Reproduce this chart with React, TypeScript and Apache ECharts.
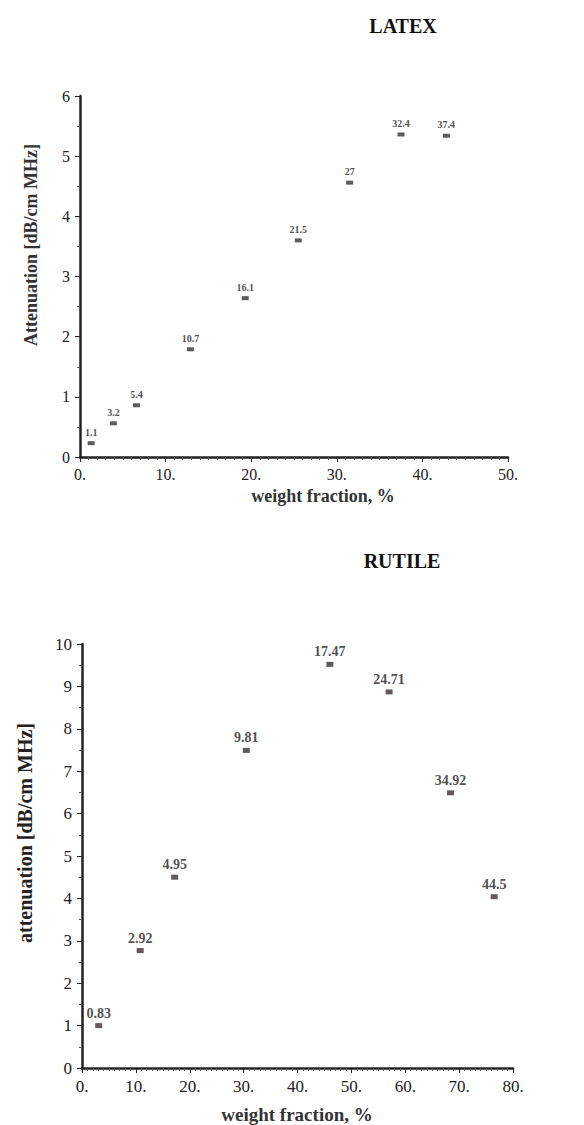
import React, { useEffect, useRef } from "react";
import * as echarts from "echarts";

const latexX = [1.3, 3.9, 6.6, 12.9, 19.3, 25.5, 31.5, 37.5, 42.8];
const latexY = [0.23, 0.56, 0.86, 1.79, 2.64, 3.6, 4.56, 5.36, 5.34];
const latexLabels = ["1.1", "3.2", "5.4", "10.7", "16.1", "21.5", "27", "32.4", "37.4"];

const rutileX = [3.1, 10.8, 17.2, 30.5, 46.0, 57.0, 68.4, 76.5];
const rutileY = [1.0, 2.77, 4.5, 7.49, 9.52, 8.87, 6.49, 4.04];
const rutileLabels = ["0.83", "2.92", "4.95", "9.81", "17.47", "24.71", "34.92", "44.5"];

const SERIF = '"Liberation Serif", "DejaVu Serif", serif';
const INK = "#222";

export default function App() {
  const ref = useRef<HTMLDivElement>(null);
  useEffect(() => {
    document.body.style.margin = "0";
    const chart = echarts.init(ref.current!, null, { renderer: "svg" });
    const axisCommon = () => ({
      axisLine: { show: true, lineStyle: { color: INK, width: 2.5 } },
      axisTick: { show: true, length: 5, lineStyle: { color: INK, width: 1 } },
      splitLine: { show: false },
    });
    const mkData = (xs: number[], ys: number[], labels: string[]) =>
      xs.map((x, i) => ({ value: [x, ys[i]], name: labels[i] }));
    chart.setOption({
      animation: false,
      backgroundColor: "#fff",
      title: [
        { text: "LATEX", left: 398, top: 11, textAlign: "center",
          textStyle: { fontFamily: SERIF, fontSize: 20, fontWeight: 900, color: "#111" } },
        { text: "RUTILE", left: 397, top: 546, textAlign: "center",
          textStyle: { fontFamily: SERIF, fontSize: 20, fontWeight: 900, color: "#111" } },
      ],
      grid: [
        { left: 80, top: 96, width: 428, height: 361 },
        { left: 82, top: 644, width: 431, height: 424 },
      ],
      xAxis: [
        { gridIndex: 0, type: "value", min: 0, max: 50, interval: 10,
          ...axisCommon(),
          minorTick: { show: true, splitNumber: 10, length: 3, lineStyle: { color: "#555" } },
          axisLabel: { color: INK, fontFamily: SERIF, fontSize: 16, margin: 9, formatter: (v: number) => v + "." } },
        { gridIndex: 1, type: "value", min: 0, max: 80, interval: 10,
          ...axisCommon(),
          minorTick: { show: true, splitNumber: 10, length: 3, lineStyle: { color: "#555" } },
          axisLabel: { color: INK, fontFamily: SERIF, fontSize: 17, margin: 10, formatter: (v: number) => v + "." } },
      ],
      yAxis: [
        { gridIndex: 0, type: "value", min: 0, max: 6, interval: 1,
          ...axisCommon(),
          minorTick: { show: true, splitNumber: 2, length: 3, lineStyle: { color: "#555" } },
          axisLabel: { color: INK, fontFamily: SERIF, fontSize: 16, margin: 10 } },
        { gridIndex: 1, type: "value", min: 0, max: 10, interval: 1,
          ...axisCommon(),
          minorTick: { show: true, splitNumber: 2, length: 3, lineStyle: { color: "#555" } },
          axisLabel: { color: INK, fontFamily: SERIF, fontSize: 17, margin: 10 } },
      ],
      graphic: [
        { type: "text", x: 31, y: 245, rotation: Math.PI / 2,
          style: { text: "Attenuation [dB/cm MHz]", fontFamily: SERIF, fontSize: 18, fontWeight: "bold",
            fill: "#333", align: "center", verticalAlign: "middle" } },
        { type: "text", x: 323, y: 496,
          style: { text: "weight fraction, %", fontFamily: SERIF, fontSize: 18, fontWeight: "bold",
            fill: "#333", align: "center", verticalAlign: "middle" } },
        { type: "text", x: 25, y: 833, rotation: Math.PI / 2,
          style: { text: "attenuation [dB/cm MHz]", fontFamily: SERIF, fontSize: 20, fontWeight: 900,
            fill: "#222", align: "center", verticalAlign: "middle" } },
        { type: "text", x: 297, y: 1114,
          style: { text: "weight fraction, %", fontFamily: SERIF, fontSize: 19, fontWeight: "bold",
            fill: "#333", align: "center", verticalAlign: "middle" } },
      ],
      series: [
        { type: "scatter", xAxisIndex: 0, yAxisIndex: 0, symbol: "rect", symbolSize: [7, 4],
          itemStyle: { color: "#333" },
          label: { show: true, position: "top", distance: 4, formatter: "{b}",
            fontFamily: SERIF, fontSize: 10, fontWeight: "bold", color: "#222" },
          data: mkData(latexX, latexY, latexLabels) },
        { type: "scatter", xAxisIndex: 1, yAxisIndex: 1, symbol: "rect", symbolSize: [7, 5],
          itemStyle: { color: "#3a3030" },
          label: { show: true, position: "top", distance: 3, formatter: "{b}",
            fontFamily: SERIF, fontSize: 14, fontWeight: "bold", color: "#222" },
          data: mkData(rutileX, rutileY, rutileLabels) },
      ],
    });
    return () => chart.dispose();
  }, []);
  return <div ref={ref} style={{ width: 584, height: 1125 }} />;
}
